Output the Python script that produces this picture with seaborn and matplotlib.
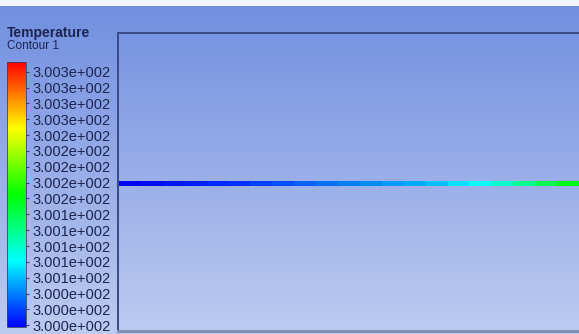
import matplotlib
matplotlib.use("Agg")
import matplotlib.pyplot as plt
import seaborn as sns
import numpy as np
import pandas as pd
from matplotlib.colors import LinearSegmentedColormap

# temperature range of the legend (K)
t_min = 300.0
t_max = 300.3

# legend ticks, bottom to top, and their labels as shown by the solver
legend_ticks = np.linspace(300.002, 300.289, 17)
legend_labels = (["3.000e+002"] * 3 + ["3.001e+002"] * 5
                 + ["3.002e+002"] * 5 + ["3.003e+002"] * 4)

# temperature sampled along the line (normalised position along the domain)
line_x = [0.0, 0.05, 0.1, 0.15, 0.2, 0.25, 0.3, 0.35, 0.4, 0.45, 0.5,
          0.55, 0.6, 0.65, 0.7, 0.75, 0.8, 0.85, 0.9, 0.95, 1.0]
line_temp = [300.000, 300.003, 300.006, 300.009, 300.012, 300.015, 300.0195,
             300.024, 300.0285, 300.033, 300.0375, 300.042, 300.0465, 300.051,
             300.057, 300.066, 300.078, 300.090, 300.108, 300.126, 300.144]

title = "Temperature"
subtitle = "Contour 1"

sns.set_style("white")
plt.rcParams["font.family"] = ["Liberation Sans", "DejaVu Sans"]

# solver-style rainbow colour map
ansys = LinearSegmentedColormap.from_list(
    "ansys", ["#0000ff", "#00ffff", "#00ff00", "#ffff00", "#ff0000"])
bg_map = LinearSegmentedColormap.from_list("bg", ["#bccbf0", "#98ade8", "#708ee0"])

W, H = 579, 334
fig = plt.figure(figsize=(W / 100, H / 100), dpi=100)


def px_box(x0, y0, x1, y1):
    # pixel box (top-left origin) -> figure fraction rect
    return [x0 / W, 1 - y1 / H, (x1 - x0) / W, (y1 - y0) / H]


# gradient background
ax_bg = fig.add_axes([0, 0, 1, 1], zorder=-2)
ax_bg.imshow(np.linspace(0, 1, 256)[:, None], cmap=bg_map.reversed(),
             aspect="auto", extent=[0, 1, 0, 1])
ax_bg.axhspan(1 - 6 / H, 1, color="#f2f5fd", lw=0)
ax_bg.set_xlim(0, 1)
ax_bg.set_ylim(0, 1)
ax_bg.set_axis_off()

# domain outline
ax_dom = fig.add_axes(px_box(118, 33, 580, 331), zorder=-1)
ax_dom.set_facecolor("none")
ax_dom.set_xticks([])
ax_dom.set_yticks([])
ax_dom.spines["right"].set_visible(False)
for side in ["top", "left"]:
    ax_dom.spines[side].set_color("#3a4a86")
    ax_dom.spines[side].set_linewidth(1.4)
ax_dom.spines["bottom"].set_color("#8090b4")
ax_dom.spines["bottom"].set_linewidth(2.2)

# coloured line + legend bar
ax_line = fig.add_axes(px_box(119, 181.5, 579, 186))
cax = fig.add_axes(px_box(7, 62, 26, 327))
df = pd.DataFrame([line_temp], columns=line_x)
sns.heatmap(df, ax=ax_line, cmap=ansys, vmin=t_min, vmax=t_max,
            cbar_ax=cax, xticklabels=False, yticklabels=False)
ax_line.set_axis_off()

cbar = ax_line.collections[0].colorbar
cbar.set_ticks(legend_ticks)
cbar.set_ticklabels(legend_labels)
cbar.outline.set_edgecolor("#3a4470")
cbar.outline.set_linewidth(0.6)
cax.tick_params(length=2.5, width=0.8, color="#3a4470", pad=2,
                labelsize=10.5, labelcolor="#1c2450")

fig.text(7 / W, 1 - 33 / H, title, fontsize=10, fontweight="bold",
         color="#1c2450", va="center", ha="left")
fig.text(7 / W, 1 - 46 / H, subtitle, fontsize=8.5,
         color="#1c2450", va="center", ha="left")

fig.savefig("out.png", dpi=100)
